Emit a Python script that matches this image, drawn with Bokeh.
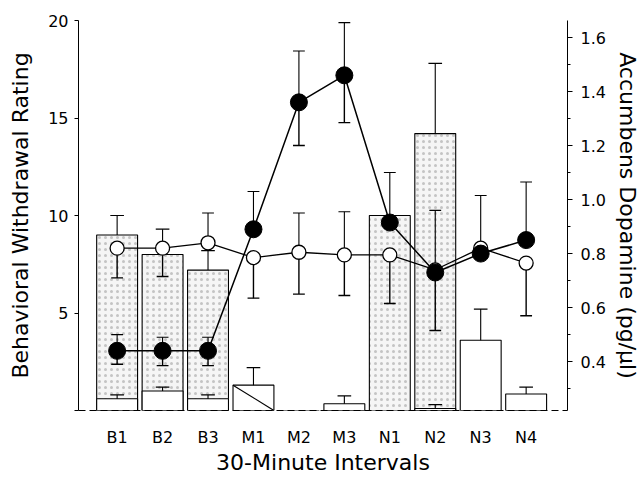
import math
from bokeh.plotting import figure
from bokeh.models import Range1d, LinearAxis, FixedTicker, PrintfTickFormatter
from bokeh.embed import file_html
from bokeh.resources import INLINE

nan = float("nan")

intervals = ["B1", "B2", "B3", "M1", "M2", "M3", "N1", "N2", "N3", "N4"]

# Behavioral withdrawal rating (left axis) - stippled bars and white bars
rating_stippled = [9.0, 8.0, 7.2, 0, 0, 0, 10.0, 14.2, 0, 0]
rating_stippled_upper = [10.0, 9.3, 8.2, nan, nan, nan, nan, 17.8, nan, nan]
rating_white = [0.6, 1.0, 0.6, 1.3, 0, 0.35, 0, 0.1, 3.6, 0.85]
rating_white_upper = [0.8, 1.2, 0.8, 2.2, nan, 0.75, nan, 0.3, 5.2, 1.2]

# Accumbens dopamine (right axis) - filled and open circles
dopamine_filled = [0.44, 0.44, 0.44, 0.89, 1.36, 1.46, 0.915, 0.73, 0.80, 0.85]
dopamine_filled_lower = [0.39, 0.385, 0.385, nan, 1.20, 1.285, nan, 0.515, nan, nan]
dopamine_filled_upper = [0.50, 0.49, 0.49, 1.03, 1.55, 1.655, 1.10, 0.96, nan, 1.065]
dopamine_open = [0.82, 0.82, 0.84, 0.785, 0.805, 0.795, 0.795, 0.74, 0.82, 0.765]
dopamine_open_lower = [0.71, 0.715, nan, 0.635, 0.65, 0.645, 0.615, nan, nan, 0.57]
dopamine_open_upper = [nan, nan, 0.95, nan, 0.95, 0.955, nan, nan, 1.015, nan]

left_ticks = [0, 5, 10, 15, 20]
right_ticks = [0.4, 0.6, 0.8, 1.0, 1.2, 1.4, 1.6]
right_minor = [0.3, 0.5, 0.7, 0.9, 1.1, 1.3, 1.5]

FONT = "DejaVu Sans"
BAR_W = 0.9
CAP = 0.15

xs = list(range(1, len(intervals) + 1))

p = figure(width=642, height=477, output_backend="svg", toolbar_location=None,
           x_range=Range1d(0.15, 10.91), y_range=Range1d(0, 20),
           min_border_left=78, min_border_right=72, min_border_top=20,
           min_border_bottom=67)
p.extra_y_ranges = {"dop": Range1d(0.219, 1.663)}
p.outline_line_color = None
p.xgrid.visible = False
p.ygrid.visible = False
p.background_fill_color = "white"
p.border_fill_color = "white"

# bars
p.vbar(x=xs, top=rating_stippled, width=BAR_W, bottom=0,
       fill_color="#f5f5f5", hatch_pattern="dot", hatch_color="#888888",
       hatch_scale=6, hatch_weight=1, hatch_alpha=0.45,
       line_color="black", line_width=1.1)
white_x = [x for x, v in zip(xs, rating_white) if v > 0]
white_v = [v for v in rating_white if v > 0]
p.vbar(x=white_x, top=white_v, width=BAR_W, bottom=0,
       fill_color="white", line_color="black", line_width=1.1)
# diagonal in M1 white bar
mi = intervals.index("M1")
p.segment(x0=[xs[mi] - BAR_W / 2], y0=[rating_white[mi]],
          x1=[xs[mi] + BAR_W / 2], y1=[0], line_color="black", line_width=1.2)


def whiskers(vals, ends, y_range_name="default", width=1.1, cap=CAP):
    x0, y0, y1 = [], [], []
    for x, v, e in zip(xs, vals, ends):
        if not math.isnan(e):
            x0.append(x); y0.append(v); y1.append(e)
    p.segment(x0=x0, y0=y0, x1=x0, y1=y1, line_color="black",
              line_width=width, y_range_name=y_range_name)
    p.segment(x0=[x - cap / 2 for x in x0], y0=y1,
              x1=[x + cap / 2 for x in x0], y1=y1, line_color="black",
              line_width=width, y_range_name=y_range_name)


whiskers(rating_stippled, rating_stippled_upper, cap=0.3)
whiskers(rating_white, rating_white_upper, cap=0.3)
whiskers(dopamine_open, dopamine_open_lower, "dop", 1.4, 0.26)
whiskers(dopamine_open, dopamine_open_upper, "dop", 1.1, 0.26)
whiskers(dopamine_filled, dopamine_filled_lower, "dop", 1.4, 0.26)
whiskers(dopamine_filled, dopamine_filled_upper, "dop", 1.1, 0.26)

# lines and markers
p.line(xs, dopamine_open, y_range_name="dop", line_color="black", line_width=1.3)
p.line(xs, dopamine_filled, y_range_name="dop", line_color="black", line_width=1.5)
p.scatter(xs, dopamine_open, y_range_name="dop", size=14, marker="circle",
          fill_color="white", line_color="black", line_width=1.3)
p.scatter(xs, dopamine_filled, y_range_name="dop", size=17, marker="circle",
          fill_color="black", line_color="black")

# axes
xa = p.xaxis[0]
xa.ticker = FixedTicker(ticks=xs)
xa.major_label_overrides = {x: lab for x, lab in zip(xs, intervals)}
xa.major_tick_out = 0
xa.major_tick_in = 0
xa.minor_tick_out = 0
xa.minor_tick_in = 0
xa.axis_line_dash = "7 4"
xa.axis_line_width = 1
xa.major_label_standoff = 17
xa.axis_label = "30-Minute Intervals"
xa.axis_label_standoff = 0

ya = p.yaxis[0]
ya.ticker = FixedTicker(ticks=left_ticks)
ya.major_label_overrides = {0: ""}
ya.major_tick_out = 4
ya.major_tick_in = 0
ya.minor_tick_out = 0
ya.minor_tick_in = 0
ya.major_label_standoff = 6
ya.axis_label = "Behavioral Withdrawal Rating"
ya.axis_label_standoff = 12

ra = LinearAxis(y_range_name="dop")
ra.ticker = FixedTicker(ticks=right_ticks, minor_ticks=right_minor)
ra.formatter = PrintfTickFormatter(format="%.1f")
ra.major_tick_out = 5
ra.major_tick_in = 0
ra.minor_tick_out = 3
ra.minor_tick_in = 0
ra.major_label_standoff = 8
ra.axis_label = "Accumbens Dopamine (pg/\u00b5l)"
ra.axis_label_standoff = 6
p.add_layout(ra, "right")

for ax in (xa, ya, ra):
    ax.major_label_text_font = FONT
    ax.major_label_text_font_size = "16px"
    ax.major_label_text_color = "black"
    ax.axis_label_text_font = FONT
    ax.axis_label_text_font_size = "22px"
    ax.axis_label_text_font_style = "normal"
    ax.axis_label_text_color = "black"
    ax.axis_line_color = "black"
    ax.major_tick_line_color = "black"
    ax.minor_tick_line_color = "black"

open("out.html", "w").write(file_html(p, INLINE))
